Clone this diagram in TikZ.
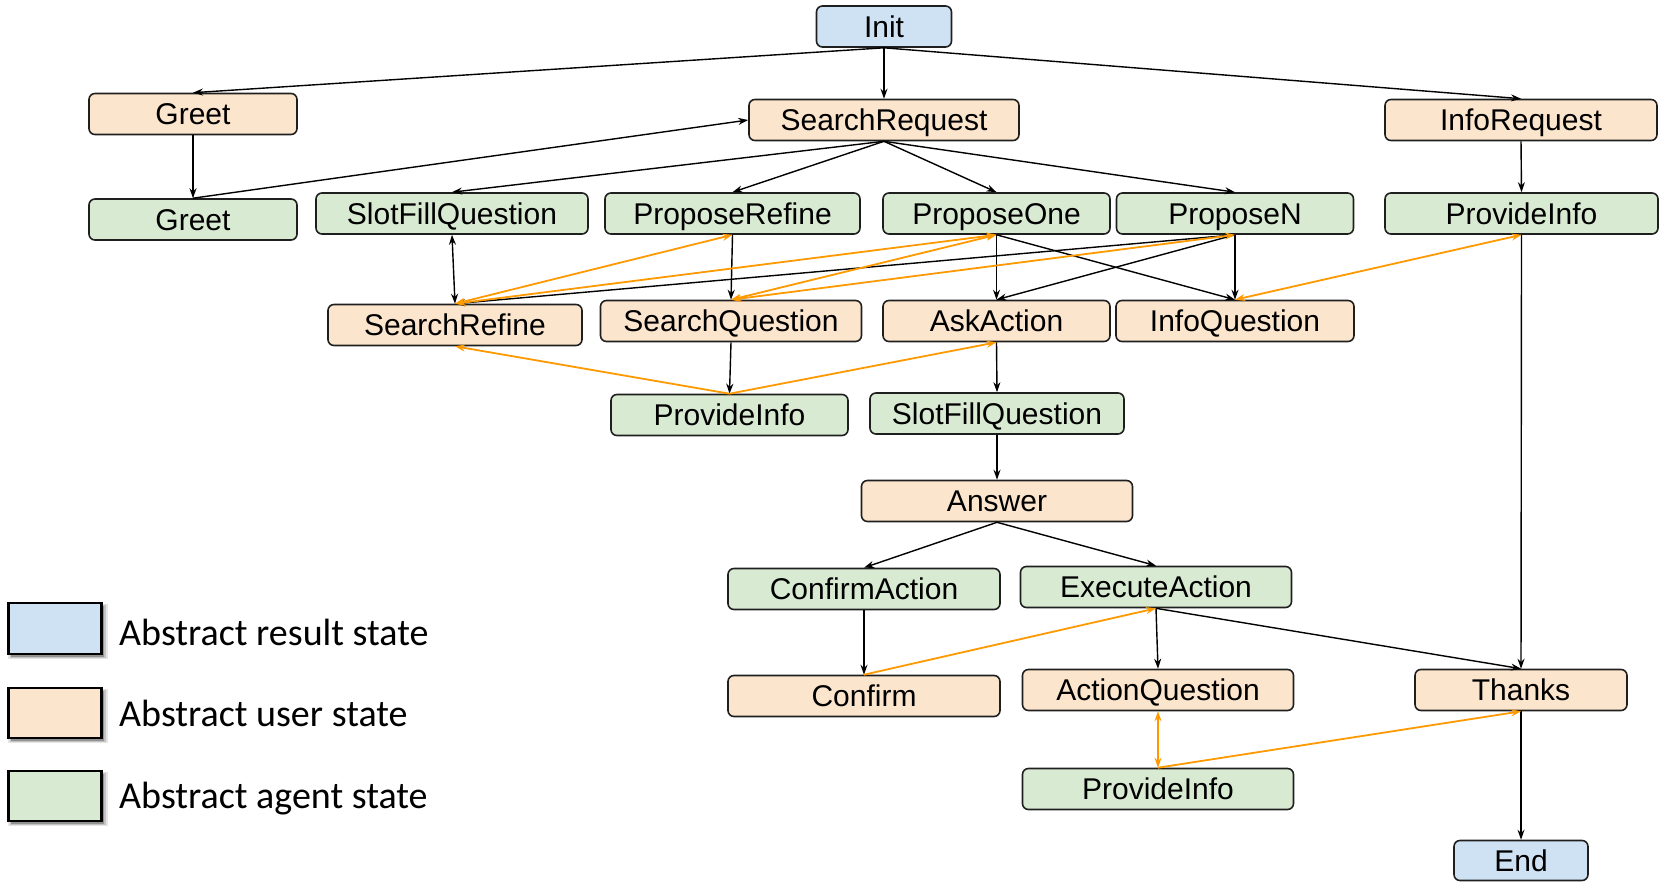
\documentclass[tikz,border=0pt]{standalone}
\usepackage{fontspec}
\setmainfont{Liberation Sans}
\newfontfamily\legendfont{Carlito}
\usetikzlibrary{arrows.meta,shadows}

\definecolor{resultfill}{HTML}{CFE2F3}
\definecolor{userfill}{HTML}{FCE5CD}
\definecolor{agentfill}{HTML}{D9EAD3}
\definecolor{loopline}{HTML}{FF9900}
\definecolor{boxline}{HTML}{1F1F1F}

\begin{document}
\begin{tikzpicture}[x=1pt,y=-1pt,
  state/.style={draw=boxline, line width=1.6pt, rounded corners=6pt,
    minimum height=41pt, inner sep=0pt, text height=24pt, text depth=2.5pt,
    font=\fontsize{30}{36}\selectfont},
  result/.style={state, fill=resultfill},
  user/.style={state, fill=userfill},
  agent/.style={state, fill=agentfill},
  tip/.tip={Stealth[length=10pt,width=7pt]},
  flow/.style={draw=black, line width=1.4pt, -tip},
  flowboth/.style={draw=black, line width=1.4pt, tip-tip},
  loop/.style={draw=loopline, line width=1.8pt, -tip},
  loopboth/.style={draw=loopline, line width=1.8pt, tip-tip},
  % soft shadow built from a few translucent layers
  legendbox/.style={draw=black, line width=2.5pt, minimum width=93pt,
    minimum height=50pt, inner sep=0pt,
    drop shadow={shadow xshift=3pt, shadow yshift=-3pt, shadow scale=1.08, opacity=0.10, fill=black},
    drop shadow={shadow xshift=3pt, shadow yshift=-3pt, shadow scale=1.04, opacity=0.15, fill=black},
    drop shadow={shadow xshift=2pt, shadow yshift=-3pt, opacity=0.25, fill=black}},
  legendtext/.style={anchor=base west, inner sep=0pt,
    font=\legendfont\fontsize{38}{44}\selectfont}
]
\useasboundingbox (0,0) rectangle (1665,881);

% states
\node[result, minimum width=135pt] (init) at (884,26.5) {Init};
\node[user,  minimum width=208pt] (greetU) at (193,114) {Greet};
\node[user,  minimum width=270pt] (searchReq) at (884,120) {SearchRequest};
\node[user,  minimum width=272pt] (infoReq) at (1521,120) {InfoRequest};
\node[agent, minimum width=208pt] (greetA) at (193,219.5) {Greet};
\node[agent, minimum width=272pt] (slotFill) at (452,213.5) {SlotFillQuestion};
\node[agent, minimum width=255pt] (propRefine) at (732.5,213.5) {ProposeRefine};
\node[agent, minimum width=227pt] (propOne) at (996.5,213.5) {ProposeOne};
\node[agent, minimum width=237pt] (propN) at (1235,213.5) {ProposeN};
\node[agent, minimum width=273pt] (provideR) at (1521.5,213.5) {ProvideInfo};
\node[user,  minimum width=254pt] (searchRefine) at (455,325) {SearchRefine};
\node[user,  minimum width=261pt] (searchQ) at (731,321) {SearchQuestion};
\node[user,  minimum width=227pt] (askAction) at (996.5,321) {AskAction};
\node[user,  minimum width=238pt] (infoQ) at (1235,321) {InfoQuestion};
\node[agent, minimum width=237pt] (provideM) at (729.5,415) {ProvideInfo};
\node[agent, minimum width=254pt] (slotFill2) at (997,413.5) {SlotFillQuestion};
\node[user,  minimum width=271pt] (answer) at (997,501) {Answer};
\node[agent, minimum width=272pt] (confirmAction) at (864,589) {ConfirmAction};
\node[agent, minimum width=271pt] (executeAction) at (1156,587) {ExecuteAction};
\node[user,  minimum width=272pt] (confirm) at (864,696) {Confirm};
\node[user,  minimum width=271pt] (actionQ) at (1158,690) {ActionQuestion};
\node[user,  minimum width=212pt] (thanks) at (1521,690) {Thanks};
\node[agent, minimum width=271pt] (provideB) at (1158,789) {ProvideInfo};
\node[result, minimum width=134pt, minimum height=40pt] (end) at (1521,860.5) {End};

% main transitions
\draw[flow] (init.south) -- (greetU.north);
\draw[flow] (init.south) -- (searchReq.north);
\draw[flow] (init.south) -- (infoReq.north);
\draw[flow] (greetU.south) -- (greetA.north);
\draw[flow] (greetA.north) -- (searchReq.west);
\draw[flow] (searchReq.south) -- (slotFill.north);
\draw[flow] (searchReq.south) -- (propRefine.north);
\draw[flow] (searchReq.south) -- (propOne.north);
\draw[flow] (searchReq.south) -- (propN.north);
\draw[flow] (infoReq.south) -- (provideR.north);
\draw[flowboth] (slotFill.south) -- (searchRefine.north);
\draw[flow] (propRefine.south) -- (searchQ.north);
\draw[flow] (propN.south) -- (searchRefine.north);
\draw[flow] (propOne.south) -- (askAction.north);
\draw[flow] (propOne.south) -- (infoQ.north);
\draw[flow] (propN.south) -- (askAction.north);
\draw[flow] (propN.south) -- (infoQ.north);
\draw[flow] (searchQ.south) -- (provideM.north);
\draw[flow] (askAction.south) -- (slotFill2.north);
\draw[flow] (slotFill2.south) -- (answer.north);
\draw[flow] (answer.south) -- (confirmAction.north);
\draw[flow] (answer.south) -- (executeAction.north);
\draw[flow] (confirmAction.south) -- (confirm.north);
\draw[flow] (executeAction.south) -- (actionQ.north);
\draw[flow] (executeAction.south) -- (thanks.north);
\draw[flow] (provideR.south) -- (thanks.north);
\draw[flow] (thanks.south) -- (end.north);

% side transitions
\draw[loopboth] (searchRefine.north) -- (propRefine.south);
\draw[loopboth] (searchRefine.north) -- (propOne.south);
\draw[loopboth] (searchQ.north) -- (propOne.south);
\draw[loopboth] (searchQ.north) -- (propN.south);
\draw[loopboth] (infoQ.north) -- (provideR.south);
\draw[loop] (provideM.north) -- (searchRefine.south);
\draw[loop] (provideM.north) -- (askAction.south);
\draw[loop] (confirm.north) -- (executeAction.south);
\draw[loopboth] (actionQ.south) -- (provideB.north);
\draw[loop] (provideB.north) -- (thanks.south);

% legend
\node[legendbox, fill=resultfill, minimum height=51pt] (legResult) at (55,628.5) {};
\node[legendbox, fill=userfill] (legUser) at (55,713) {};
\node[legendbox, fill=agentfill] (legAgent) at (55,796) {};
\node[legendtext] (legResultText) at (119,645) {Abstract result state};
\node[legendtext] (legUserText) at (119,726) {Abstract user state};
\node[legendtext] (legAgentText) at (119,808) {Abstract agent state};
\end{tikzpicture}
\end{document}
